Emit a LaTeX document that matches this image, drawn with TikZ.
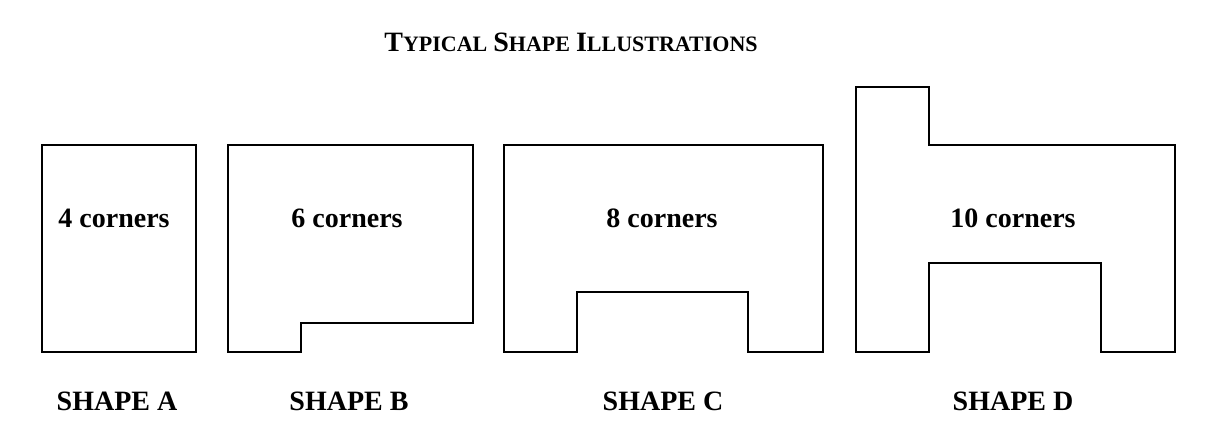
\documentclass[tikz,border=0pt]{standalone}
\usepackage{fontspec}
\setmainfont{Liberation Serif}
\newcommand{\bigc}[1]{{\fontsize{28}{32}\selectfont #1}}
\newcommand{\smc}[1]{{\fontsize{22}{26}\selectfont #1}}
\begin{document}
\begin{tikzpicture}[x=1pt,y=-1pt,
  shapeline/.style={draw=black,line width=2pt,line join=miter},
  lbl/.style={font=\bfseries\fontsize{28}{32}\selectfont,inner sep=0pt,anchor=base}]
\useasboundingbox (0,0) rectangle (1206,435);
\node[font=\bfseries\fontsize{24}{28}\selectfont,anchor=base,inner sep=0pt] (title) at (571,52) {\bigc{T}\smc{YPICAL} \bigc{S}\smc{HAPE} \bigc{I}\smc{LLUSTRATIONS}};
% Shape A
\draw[shapeline] (42,145) rectangle (196,352);
% Shape B
\draw[shapeline] (228,145) -- (473,145) -- (473,323) -- (301,323) -- (301,352) -- (228,352) -- cycle;
% Shape C
\draw[shapeline] (504,145) -- (823,145) -- (823,352) -- (748,352) -- (748,292) -- (577,292) -- (577,352) -- (504,352) -- cycle;
% Shape D
\draw[shapeline] (856,87) -- (929,87) -- (929,145) -- (1175,145) -- (1175,352) -- (1101,352) -- (1101,263) -- (929,263) -- (929,352) -- (856,352) -- cycle;
\node[lbl] (ca) at (114,228) {4 corners};
\node[lbl] (cb) at (347,228) {6 corners};
\node[lbl] (cc) at (662,228) {8 corners};
\node[lbl] (cd) at (1013,228) {10 corners};
\node[lbl] (sa) at (117,410) {SHAPE A};
\node[lbl] (sb) at (349,410) {SHAPE B};
\node[lbl] (sc) at (663,410) {SHAPE C};
\node[lbl] (sd) at (1013,410) {SHAPE D};
\end{tikzpicture}
\end{document}
